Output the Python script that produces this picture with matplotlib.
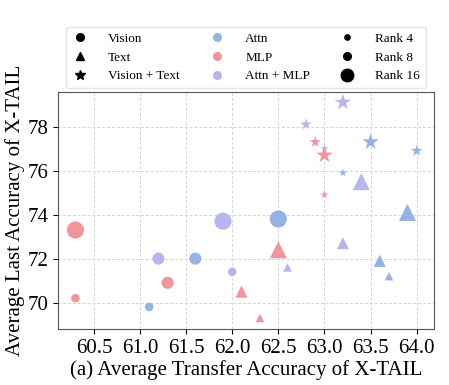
import matplotlib
matplotlib.use("Agg")
import matplotlib.pyplot as plt
from matplotlib.lines import Line2D

plt.rcParams['font.family'] = ['Liberation Serif', 'DejaVu Serif']

# ranks order: 4, 8, 16
ranks = [4, 8, 16]
modalities = ["Vision", "Text", "Vision + Text"]
tunings = ["Attn + MLP", "Attn", "MLP"]

# transfer (x) / last (y) accuracy, per tuning -> per modality -> ranks [4, 8, 16]
attn_mlp_x = {"Vision": [62.0, 61.2, 61.9], "Text": [62.6, 63.2, 63.4], "Vision + Text": [63.0, 62.8, 63.2]}
attn_mlp_y = {"Vision": [71.4, 72.0, 73.7], "Text": [71.6, 72.7, 75.5], "Vision + Text": [77.0, 78.1, 79.1]}
attn_x = {"Vision": [61.1, 61.6, 62.5], "Text": [63.7, 63.6, 63.9], "Vision + Text": [63.2, 64.0, 63.5]}
attn_y = {"Vision": [69.8, 72.0, 73.8], "Text": [71.2, 71.9, 74.1], "Vision + Text": [75.9, 76.9, 77.3]}
mlp_x = {"Vision": [60.3, 61.3, 60.3], "Text": [62.3, 62.1, 62.5], "Vision + Text": [63.0, 62.9, 63.0]}
mlp_y = {"Vision": [70.2, 70.9, 73.3], "Text": [69.3, 70.5, 72.4], "Vision + Text": [74.9, 77.3, 76.7]}

xs = {"Attn + MLP": attn_mlp_x, "Attn": attn_x, "MLP": mlp_x}
ys = {"Attn + MLP": attn_mlp_y, "Attn": attn_y, "MLP": mlp_y}

colors = {"Attn": "#92b3e3", "MLP": "#f1959c", "Attn + MLP": "#b7b6ec"}
markers = {"Vision": "o", "Text": "^", "Vision + Text": "*"}
sizes = {4: 38, 8: 76, 16: 152}

fig = plt.figure(figsize=(4.49, 3.85), dpi=100)
ax = fig.add_axes([0.13, 0.146, 0.836, 0.616])

for t in tunings:
    for m in modalities:
        ax.scatter(xs[t][m], ys[t][m], s=[sizes[r] for r in ranks],
                   c=colors[t], marker=markers[m], linewidths=0, zorder=3)

ax.set_xticks([60.5, 61.0, 61.5, 62.0, 62.5, 63.0, 63.5, 64.0])
ax.set_yticks([70, 72, 74, 76, 78])
ax.tick_params(labelsize=15, colors='black')
ax.grid(True, linestyle=(0, (3, 2)), color='#d5d5d5', linewidth=0.7)
for sp in ax.spines.values():
    sp.set_color('#555555')

ax.set_xlabel("(a) Average Transfer Accuracy of X-TAIL", fontsize=15, labelpad=2)
ax.set_ylabel("Average Last Accuracy of X-TAIL", fontsize=15, labelpad=2)

handles = []
labels = []
for m in modalities:
    handles.append(Line2D([], [], linestyle='none', marker=markers[m], color='black',
                          markersize=5.5 if m != "Vision + Text" else 7))
    labels.append(m)
for t in ["Attn", "MLP", "Attn + MLP"]:
    handles.append(Line2D([], [], linestyle='none', marker='o', color=colors[t], markersize=5.5))
    labels.append(t)
for r, ms in zip(ranks, [3.8, 5.5, 9]):
    handles.append(Line2D([], [], linestyle='none', marker='o', color='black', markersize=ms))
    labels.append(f"Rank {r}")

ax.legend(handles, labels, ncol=3, loc='lower center', bbox_to_anchor=(0.5, 1.014),
          borderaxespad=0, fontsize=9.5, frameon=True, edgecolor='#dddddd',
          handlelength=1.2, columnspacing=2.2, handletextpad=1.55,
          labelspacing=0.5, borderpad=0.45)

fig.savefig("out.png", dpi=100)
